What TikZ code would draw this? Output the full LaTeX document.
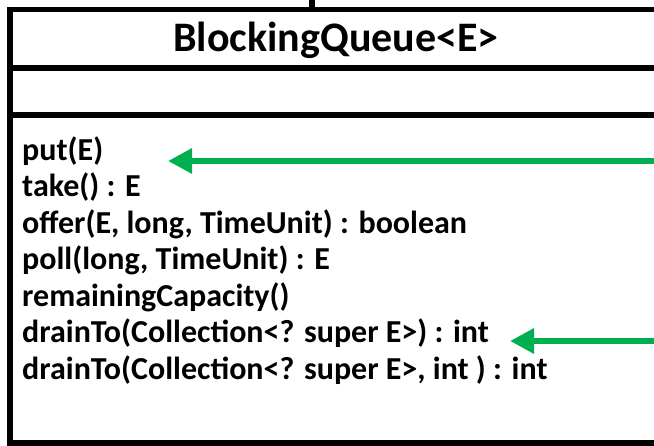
\documentclass[tikz,border=0pt]{standalone}
\usepackage{fontspec}
\setmainfont{Carlito}
\usepackage{tikz}
\usetikzlibrary{arrows.meta,calc}
\definecolor{ink}{RGB}{0,0,0}
\definecolor{hint}{RGB}{0,176,80}
\def\TxL{22}
\def\BoxR{690}
\tikzset{
  classline/.style={line width=5.5pt, draw=ink},
  clsname/.style={font=\fontsize{42}{46}\selectfont\bfseries, text=ink, inner sep=0pt},
  meth/.style={anchor=base west, font=\fontsize{32}{36}\selectfont\bfseries, text=ink, inner sep=0pt},
  hintarr/.style={-{Triangle[length=24pt,width=24pt]}, line width=6.5pt, draw=hint},
}

\begin{document}
\begin{tikzpicture}[x=1pt,y=-1pt]
  \useasboundingbox (0,0) rectangle (654,445);
  \clip (0,0) rectangle (654,445);

  % class box, cut off on the right
  \coordinate (tl) at (10,9.5);
  \coordinate (br) at (\BoxR,443);
  \draw[classline] (tl) rectangle (br);
  \draw[classline] (10,68) -- (\BoxR,68);
  \draw[classline] (10,115) -- (\BoxR,115);
  \node[clsname] (cname) at (336,40) {BlockingQueue<E>};

  % link going up to the parent
  \coordinate (topmid) at (311.5,9.5);
  \coordinate (up) at (311.5,-10);
  \draw[line width=6pt] (topmid) -- (up);

  % operations
  \node[meth] (m1) at (\TxL,160) {put(E)};
  \node[meth] (m2) at (\TxL,196.5) {take() : E};
  \node[meth] (m3) at (\TxL,233) {offer(E, long, TimeUnit) : boolean};
  \node[meth] (m4) at (\TxL,269.5) {poll(long, TimeUnit) : E};
  \node[meth] (m5) at (\TxL,306) {remainingCapacity()};
  \node[meth] (m6) at (\TxL,342.5) {drainTo(Collection<? super E>) : int};
  \node[meth] (m7) at (\TxL,379) {drainTo(Collection<? super E>, int ) : int};

  % green pointers
  \coordinate (a1src) at (700,161);
  \coordinate (a1tip) at (168,161);
  \draw[hintarr] (a1src) -- (a1tip);
  \coordinate (a2src) at (700,341);
  \coordinate (a2tip) at (510,341);
  \draw[hintarr] (a2src) -- (a2tip);
\end{tikzpicture}
\end{document}
